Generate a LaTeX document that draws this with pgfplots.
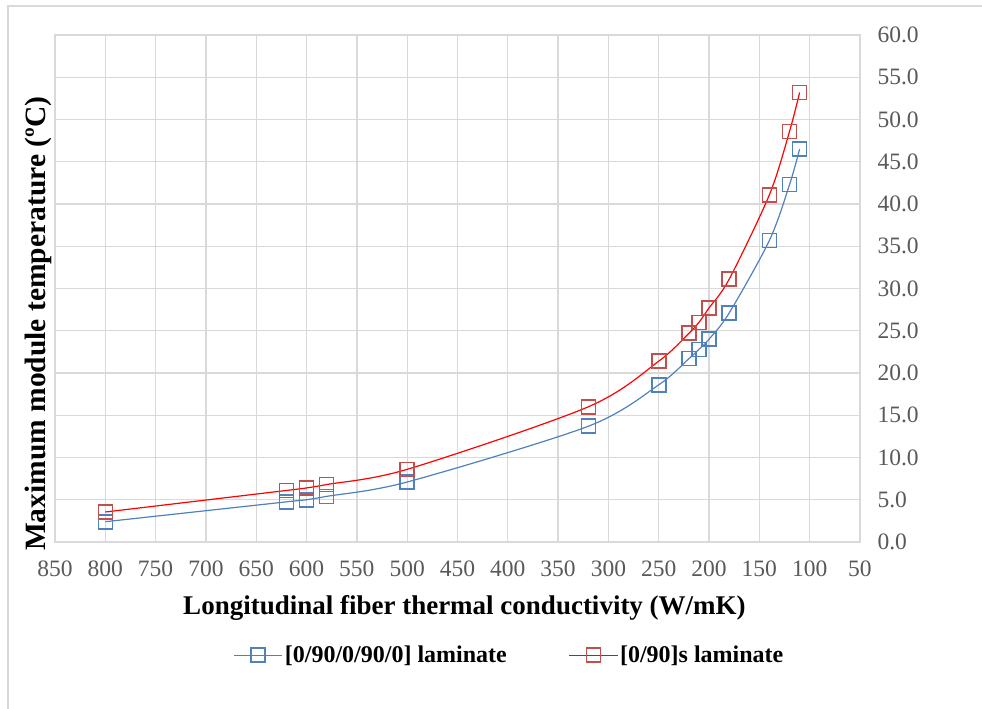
\documentclass[border=0pt]{standalone}
\usepackage{fontspec}
\setmainfont{Liberation Serif}
\usepackage{pgfplots}
\pgfplotsset{compat=1.18}
\definecolor{gridc}{HTML}{D9D9D9}
\definecolor{bline}{HTML}{4F81BD}
\definecolor{rmark}{HTML}{C0504D}
\definecolor{rline}{HTML}{FF0000}
\definecolor{tickc}{HTML}{595959}
\begin{document}
\begin{tikzpicture}[x=1pt,y=1pt]
\begin{axis}[
 at={(0,0)}, anchor=south west,
 scale only axis, width=805pt, height=507pt,
 x dir=reverse, xmin=50, xmax=850, ymin=0, ymax=60,
 xtick={50,100,...,850}, ytick={0,5,...,60},
 grid=major, major grid style={gridc, line width=1.3pt},
 axis line style={gridc, line width=1.3pt},
 tick style={draw=none},
 yticklabel pos=right,
 yticklabel style={/pgf/number format/fixed, /pgf/number format/fixed zerofill, /pgf/number format/precision=1, xshift=14pt},
 /pgf/number format/assume math mode=true,
 ticklabel style={font=\fontsize{23.5}{28}\selectfont, text=tickc},
 xticklabel style={yshift=-15pt},
 xlabel={Longitudinal fiber thermal conductivity (W/mK)},
 ylabel={Maximum module temperature (ºC)},
 xlabel style={font=\bfseries\fontsize{27}{32}\selectfont, at={(axis description cs:0.5,0)}, xshift=7pt, yshift=-50pt, anchor=north},
 ylabel style={font=\bfseries\fontsize{29.5}{35}\selectfont, at={(axis description cs:0,0.45)}, xshift=-10pt, anchor=south},
 legend style={at={(axis description cs:0.5,0)}, xshift=52pt, yshift=-100pt, anchor=north, draw=none,
   font=\bfseries\fontsize{24}{28}\selectfont, legend columns=2,
   /tikz/every even column/.append style={column sep=60pt}},
 legend image code/.code={\draw[mark repeat=2,mark phase=2] plot coordinates {(0pt,0pt) (24pt,0pt) (48pt,0pt)};},
]
\addplot[bline, line width=1.2pt, smooth, tension=0.5, mark=square, mark size=7pt,
  mark options={draw=bline, fill=none, line width=1.6pt, solid}] coordinates {
 (800,2.4) (620,4.75) (600,5.0) (580,5.4) (500,7.1) (320,13.7) (250,18.6)
 (220,21.7) (210,22.8) (200,24.0) (180,27.1) (140,35.7) (120,42.3) (110,46.5)};
\addlegendentry{[0/90/0/90/0] laminate}
\addplot[rline, line width=1.2pt, smooth, tension=0.5, mark=square, mark size=7pt,
  mark options={draw=rmark, fill=none, line width=1.6pt, solid}] coordinates {
 (800,3.55) (620,6.1) (600,6.4) (580,6.8) (500,8.6) (320,16.0) (250,21.4)
 (220,24.7) (210,26.0) (200,27.7) (180,31.1) (140,41.1) (120,48.6) (110,53.2)};
\addlegendentry{[0/90]s laminate}
\end{axis}
\draw[gridc, line width=1.3pt] (-47,-167) -- (-47,536) -- (927,536);
\pgfresetboundingbox
\path[use as bounding box] (-55,-167) rectangle (927,542);
\end{tikzpicture}
\end{document}
